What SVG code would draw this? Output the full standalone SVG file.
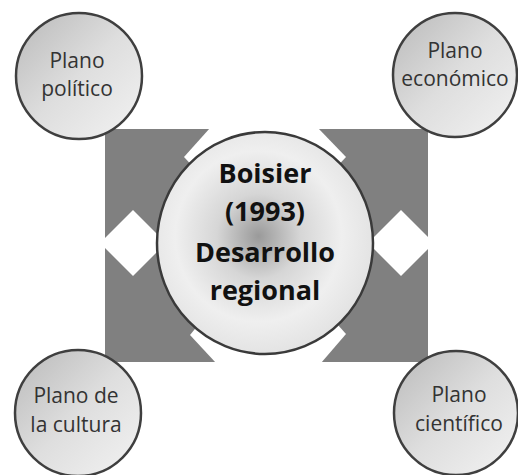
<svg xmlns="http://www.w3.org/2000/svg" width="518" height="475" viewBox="0 0 518 475">
  <defs>
    <linearGradient id="gOuter" x1="0" y1="0" x2="1" y2="1">
      <stop offset="0" stop-color="#b9b9b9"/>
      <stop offset="0.5" stop-color="#dedede"/>
      <stop offset="1" stop-color="#f3f3f3"/>
    </linearGradient>
    <radialGradient id="gCenter" cx="0.47" cy="0.47" r="0.55">
      <stop offset="0" stop-color="#9a9a9a"/>
      <stop offset="0.35" stop-color="#d6d6d6"/>
      <stop offset="0.7" stop-color="#efefef"/>
      <stop offset="1" stop-color="#e2e2e2"/>
    </radialGradient>
    <style>
      .gray { fill: #808080; }
      .gap { fill: #ffffff; }
      .outer { fill: url(#gOuter); stroke: #3f3f3f; stroke-width: 2.5; }
      .center { fill: url(#gCenter); stroke: #3a3a3a; stroke-width: 2.5; }
      .lbl { font-family: "Open Sans", "Liberation Sans", sans-serif; font-size: 21px; fill: #333333; text-anchor: middle; }
      .main { font-family: "Open Sans", "Liberation Sans", sans-serif; font-size: 27px; font-weight: bold; fill: #111111; text-anchor: middle; }
    </style>
  </defs>
  <rect width="518" height="475" fill="#ffffff"/>
  <g id="connectors">
    <rect class="gray" x="105" y="129" width="323" height="233"/>
    <polygon class="gap" points="210,128 318,128 346,157 265,243 184,157"/>
    <polygon class="gap" points="216,363 321,363 346,334 265,243 190,335"/>
    <polygon class="gap" points="133,210 166,243 133,276 100,243"/>
    <polygon class="gap" points="401,210 434,243 401,276 368,243"/>
  </g>
  <g id="center">
    <ellipse class="center" cx="265" cy="243" rx="108" ry="111"/>
    <text class="main" x="265" y="183">Boisier</text>
    <text class="main" x="265" y="221">(1993)</text>
    <text class="main" x="265" y="262">Desarrollo</text>
    <text class="main" x="265" y="300">regional</text>
  </g>
  <g id="plano-politico">
    <circle class="outer" cx="79" cy="76" r="63"/>
    <text class="lbl" x="77" y="68">Plano</text>
    <text class="lbl" x="77" y="96">político</text>
  </g>
  <g id="plano-economico">
    <circle class="outer" cx="455" cy="75" r="62"/>
    <text class="lbl" x="455" y="58">Plano</text>
    <text class="lbl" x="455" y="86">económico</text>
  </g>
  <g id="plano-cultura">
    <circle class="outer" cx="78" cy="413" r="63"/>
    <text class="lbl" x="76" y="403">Plano de</text>
    <text class="lbl" x="76" y="432">la cultura</text>
  </g>
  <g id="plano-cientifico">
    <circle class="outer" cx="456" cy="413" r="62"/>
    <text class="lbl" x="459" y="402">Plano</text>
    <text class="lbl" x="459" y="431">científico</text>
  </g>
</svg>
